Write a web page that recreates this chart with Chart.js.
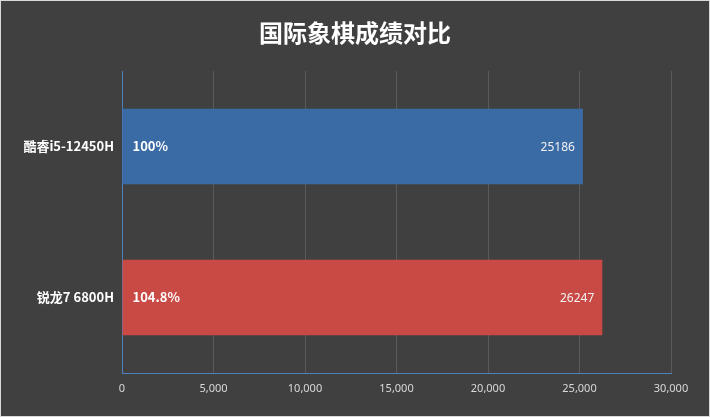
<!DOCTYPE html>
<html>
<head>
<meta charset="utf-8">
<script src="https://cdn.jsdelivr.net/npm/chart.js@4"></script>
<style>
  html, body { margin: 0; padding: 0; background: #404040; }
  .wrap { width: 708px; height: 415px; border: 1px solid #d9d9d9; }
</style>
</head>
<body>
<div class="wrap"><canvas id="chessChart" width="708" height="415"></canvas></div>
<script>
const chartTitle = '国际象棋成绩对比';
const categories = ['酷睿i5-12450H', '锐龙7 6800H'];
const scores = [25186, 26247];
const percentLabels = ['100%', '104.8%'];
const barColors = ['#3a6ba5', '#c94a45'];
const xTicks = [0, 5000, 10000, 15000, 20000, 25000, 30000];

const cjk = '"Microsoft YaHei", "Noto Sans CJK SC", sans-serif';

// título centrado sobre todo el lienzo (no solo sobre el área del gráfico)
const centeredTitle = {
  id: 'centeredTitle',
  afterDraw(chart) {
    const ctx = chart.ctx;
    ctx.save();
    ctx.fillStyle = '#ffffff';
    ctx.font = 'bold 24px ' + cjk;
    ctx.textAlign = 'center';
    ctx.textBaseline = 'middle';
    ctx.fillText(chartTitle, chart.width / 2, 32);
    ctx.restore();
  }
};

// etiquetas dentro de las barras: porcentaje a la izquierda, valor a la derecha
const barLabels = {
  id: 'barLabels',
  afterDatasetsDraw(chart) {
    const ctx = chart.ctx;
    const meta = chart.getDatasetMeta(0);
    ctx.save();
    ctx.textBaseline = 'middle';
    meta.data.forEach((bar, i) => {
      ctx.fillStyle = '#ffffff';
      ctx.font = 'bold 13px ' + cjk;
      ctx.textAlign = 'left';
      ctx.fillText(percentLabels[i], bar.base + 10, bar.y);

      ctx.fillStyle = '#f2f2f2';
      ctx.font = '12px "Noto Sans", sans-serif';
      ctx.textAlign = 'right';
      ctx.fillText(String(scores[i]), bar.x - 8, bar.y + 1);
    });
    ctx.restore();
  }
};

const ctx = document.getElementById('chessChart').getContext('2d');
new Chart(ctx, {
  type: 'bar',
  data: {
    labels: categories,
    datasets: [{
      data: scores,
      backgroundColor: barColors,
      barPercentage: 0.5,
      categoryPercentage: 1
    }]
  },
  options: {
    indexAxis: 'y',
    responsive: false,
    animation: false,
    layout: { padding: { left: 0, right: 38, top: 70, bottom: 0 } },
    plugins: {
      legend: { display: false },
      tooltip: { enabled: false },
      title: { display: false }
    },
    scales: {
      x: {
        min: 0,
        max: 30000,
        afterBuildTicks(scale) {
          scale.ticks = xTicks.map(v => ({ value: v }));
        },
        afterFit(scale) { scale.height = 43; },
        grid: { color: '#5a5a5a', drawTicks: false },
        border: { color: '#4f81bd', width: 1 },
        ticks: {
          color: '#d9d9d9',
          padding: 9,
          font: { family: '"Noto Sans", sans-serif', size: 11 },
          callback: v => v.toLocaleString('en-US')
        }
      },
      y: {
        afterFit(scale) { scale.width = 121; },
        grid: { display: false, drawTicks: false },
        border: { color: '#4f81bd', width: 1 },
        ticks: {
          color: '#ffffff',
          padding: 8,
          font: { family: cjk, size: 13, weight: 'bold' }
        }
      }
    }
  },
  plugins: [barLabels, centeredTitle]
});
</script>
</body>
</html>
